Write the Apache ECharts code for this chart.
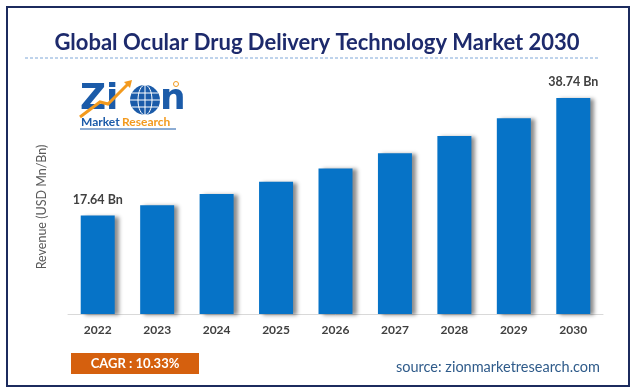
<!DOCTYPE html>
<html>
<head>
<meta charset="utf-8">
<script src="https://cdn.jsdelivr.net/npm/echarts@6/dist/echarts.min.js"></script>
<style>
html,body{margin:0;padding:0;background:#fff;}
#chart{width:634px;height:392px;}
</style>
</head>
<body>
<div id="chart"></div>
<script>
var categories = ['2022','2023','2024','2025','2026','2027','2028','2029','2030'];
var revenue = [17.64, 19.5, 21.5, 23.7, 26.1, 28.8, 31.9, 35.1, 38.74];
var titleText = 'Global Ocular Drug Delivery Technology Market 2030';
var yAxisName = 'Revenue (USD Mn/Bn)';
var cagrText = 'CAGR : 10.33%';
var sourceText = 'source: zionmarketresearch.com';
var unitSuffix = ' Bn';

var chart = echarts.init(document.getElementById('chart'), null, {renderer:'canvas'});
var FONT = 'Lato, "Open Sans", sans-serif';
var last = revenue.length - 1;

var option = {
  backgroundColor: '#ffffff',
  animation: false,
  title: {
    text: titleText,
    left: 'center',
    top: 27,
    textStyle: {fontFamily: FONT, fontWeight: 'bold', fontSize: 22, color: '#1d2a6c'}
  },
  grid: {left: 68, right: 31, top: 63, bottom: 78},
  xAxis: {
    type: 'category',
    data: categories,
    axisLine: {show: true, lineStyle: {color: '#d9d9d9', width: 1}},
    axisTick: {show: false},
    axisLabel: {fontFamily: FONT, fontWeight: 'bold', fontSize: 12, color: '#404040', margin: 10}
  },
  yAxis: {
    type: 'value',
    min: 0,
    max: 45,
    show: false,
    splitLine: {show: false}
  },
  series: [{
    type: 'bar',
    data: revenue,
    barWidth: 34,
    itemStyle: {
      color: '#0673c7',
      shadowColor: 'rgba(0,0,0,0.45)',
      shadowBlur: 4,
      shadowOffsetX: 4,
      shadowOffsetY: 1
    },
    label: {
      show: true,
      position: 'top',
      distance: 9,
      fontFamily: FONT,
      fontWeight: 'bold',
      fontSize: 12.5,
      color: '#404040',
      formatter: function (p) {
        return (p.dataIndex === 0 || p.dataIndex === last) ? p.value.toFixed(2) + unitSuffix : '';
      }
    }
  }],
  graphic: [
    {type: 'rect', shape: {x: 7, y: 7, width: 622, height: 379}, style: {fill: 'none', stroke: '#1c2b5e', lineWidth: 2}, silent: true},
    {type: 'line', shape: {x1: 25, y1: 58, x2: 598, y2: 58}, style: {stroke: '#7fa7d8', lineWidth: 1, lineDash: [3, 2]}},
    {type: 'text', x: 42, y: 207, rotation: Math.PI / 2,
      style: {text: yAxisName, fontFamily: FONT, fontSize: 12.5, fill: '#595959', align: 'center', verticalAlign: 'middle'}},
    // logo
    {type: 'text', x: 80, y: 82, style: {text: 'Zi', fontFamily: '"DejaVu Sans", sans-serif', fontWeight: 'bold', fontSize: 36, fill: '#1b5ba9'}},
    {type: 'polyline', shape: {points: [[80, 117], [100, 102], [108, 104], [128, 84]]}, style: {stroke: '#f39a1e', lineWidth: 3, fill: 'none'}},
    {type: 'polygon', shape: {points: [[124, 82], [132, 80], [130, 88]]}, style: {fill: '#f39a1e'}},
    {type: 'circle', shape: {cx: 145, cy: 100, r: 15}, style: {fill: '#1b5ba9'}},
    {type: 'ellipse', shape: {cx: 145, cy: 100, rx: 7, ry: 15}, style: {fill: 'none', stroke: '#ffffff', lineWidth: 1}},
    {type: 'line', shape: {x1: 130, y1: 100, x2: 160, y2: 100}, style: {stroke: '#ffffff', lineWidth: 1}},
    {type: 'line', shape: {x1: 145, y1: 85, x2: 145, y2: 115}, style: {stroke: '#ffffff', lineWidth: 1}},
    {type: 'line', shape: {x1: 132, y1: 93, x2: 158, y2: 93}, style: {stroke: '#ffffff', lineWidth: 1}},
    {type: 'line', shape: {x1: 132, y1: 107, x2: 158, y2: 107}, style: {stroke: '#ffffff', lineWidth: 1}},
    {type: 'text', x: 160, y: 82, style: {text: 'n', fontFamily: '"DejaVu Sans", sans-serif', fontWeight: 'bold', fontSize: 36, fill: '#1b5ba9'}},
    {type: 'circle', shape: {cx: 176, cy: 84, r: 2.5}, style: {fill: 'none', stroke: '#f39a1e', lineWidth: 1}},
    {type: 'text', x: 81, y: 116, style: {text: 'Market', fontFamily: FONT, fontWeight: 'bold', fontSize: 12, fill: '#1b5ba9'}},
    {type: 'text', x: 122, y: 116, style: {text: 'Research', fontFamily: FONT, fontWeight: 'bold', fontSize: 12, fill: '#f39a1e'}},
    {type: 'line', shape: {x1: 80, y1: 129, x2: 176, y2: 129}, style: {stroke: '#1b5ba9', lineWidth: 1}},
    // CAGR box
    {type: 'rect', shape: {x: 71, y: 353, width: 128, height: 21}, style: {fill: '#d5600e'}},
    {type: 'text', x: 135, y: 363.5, style: {text: cagrText, fontFamily: FONT, fontWeight: 'bold', fontSize: 13, fill: '#ffffff', align: 'center', verticalAlign: 'middle'}},
    {type: 'text', x: 600, y: 367, style: {text: sourceText, fontFamily: FONT, fontSize: 14.5, fill: '#2f5b8a', align: 'right', verticalAlign: 'middle'}}
  ]
};
chart.setOption(option);
</script>
</body>
</html>
